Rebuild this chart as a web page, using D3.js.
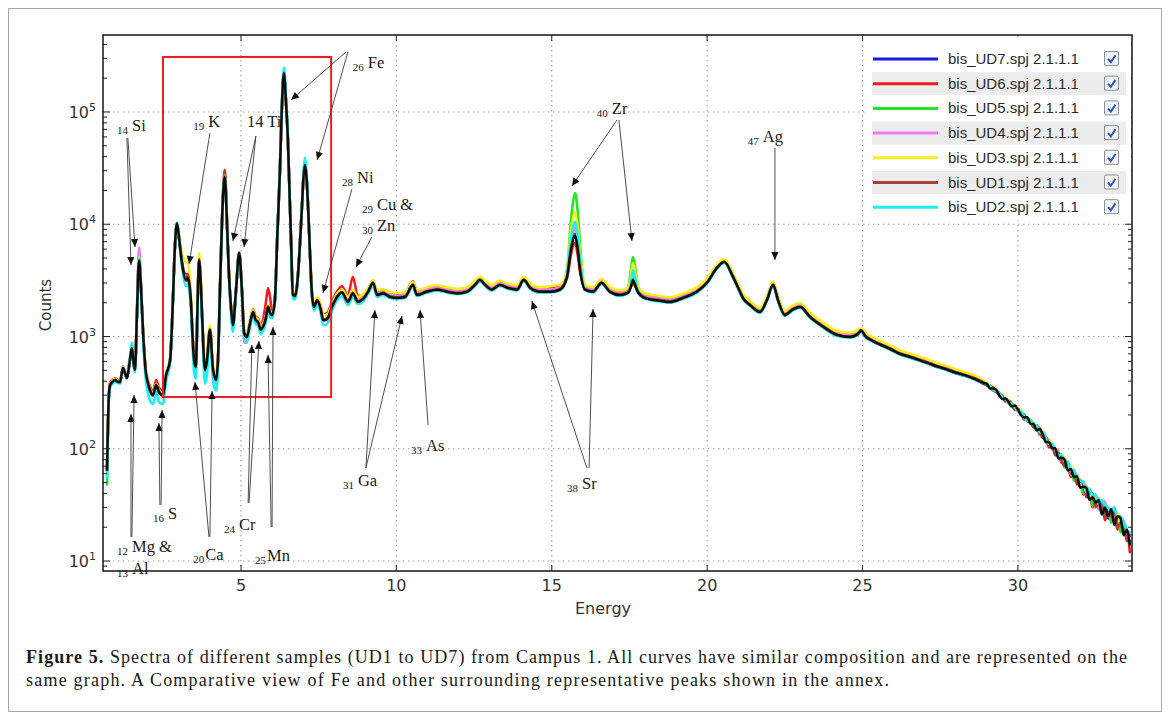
<!DOCTYPE html>
<html>
<head>
<meta charset="utf-8">
<script src="https://cdn.jsdelivr.net/npm/d3@7"></script>
<style>
  body { margin: 0; background: #fff; }
  svg { display: block; }
</style>
</head>
<body>
<svg id="fig" width="1170" height="720"></svg>
<script>
// ---- XRF spectra: energy grid (keV) shared by all traces ----
const energy = [
  0.69,0.75,0.79,0.87,0.95,1.03,1.11,1.20,1.27,1.33,
  1.42,1.49,1.55,1.59,1.65,1.72,1.78,1.85,1.94,2.00,
  2.07,2.17,2.27,2.36,2.49,2.59,2.72,2.81,2.87,2.94,
  3.02,3.10,3.23,3.29,3.39,3.45,3.49,3.55,3.60,3.65,
  3.70,3.75,3.84,3.91,4.00,4.10,4.20,4.26,4.33,4.42,
  4.48,4.55,4.61,4.68,4.74,4.84,4.94,5.03,5.10,5.19,
  5.29,5.39,5.47,5.55,5.63,5.71,5.80,5.87,5.94,6.00,
  6.09,6.17,6.25,6.31,6.38,6.45,6.51,6.56,6.61,6.67,
  6.74,6.80,6.88,6.96,7.01,7.06,7.11,7.16,7.22,7.28,
  7.35,7.45,7.57,7.64,7.70,7.80,7.93,8.09,8.25,8.44,
  8.60,8.76,8.93,9.09,9.25,9.38,9.57,9.79,10.02,10.28,
  10.53,10.66,10.98,11.30,11.63,11.95,12.27,12.53,12.69,12.85,
  13.07,13.33,13.56,13.88,14.10,14.30,14.62,14.94,15.26,15.49,
  15.60,15.68,15.75,15.83,15.92,16.07,16.33,16.60,16.87,17.19,
  17.45,17.55,17.61,17.68,17.77,18.00,18.38,18.80,19.22,19.67,
  20.00,20.31,20.55,20.83,21.00,21.15,21.38,21.70,21.92,22.12,
  22.28,22.50,22.73,22.99,23.31,23.73,24.18,24.59,24.85,24.95,
  25.10,25.33,25.60,25.90,26.20,26.50,26.80,27.10,27.40,27.70,
  28.00,28.30,28.60,28.90,29.00,29.10,29.20,29.30,29.40,29.50,
  29.60,29.70,29.80,29.90,30.00,30.10,30.20,30.30,30.40,30.50,
  30.60,30.70,30.80,30.90,31.00,31.10,31.20,31.30,31.40,31.50,
  31.60,31.70,31.80,31.90,32.00,32.10,32.20,32.30,32.40,32.50,
  32.60,32.70,32.80,32.90,33.00,33.10,33.20,33.30,33.40,33.50,
  33.60
];

// ---- counts per sample ----
const ud7 = [
  63,298,368,393,406,392,390,522,468,425,
  598,785,556,500,1490,4750,2780,1070,470,388,
  330,298,368,318,298,448,612,2100,5980,10150,
  6980,4500,3150,3310,1980,895,612,530,1790,4760,
  3180,1480,500,612,1145,500,406,612,2990,16900,
  26200,9950,3660,1790,1250,2570,5520,2570,1070,985,
  1290,1640,1390,1335,1140,1210,1440,1820,1590,1540,
  2090,7950,28400,99500,221000,119500,55700,19900,7200,2340,
  2290,2760,5470,14050,25900,33500,25900,14050,5470,2450,
  1820,2090,1710,1395,1395,1455,1820,2240,2450,2020,
  2410,2020,2140,2490,2990,2330,2410,2240,2190,2240,
  2870,2330,2490,2600,2490,2410,2490,2870,3170,2870,
  2600,2870,2710,2600,3170,2710,2490,2490,2600,3400,
  5700,7400,8100,6300,3850,2600,2490,2990,2490,2330,
  2440,2800,3200,2900,2490,2190,2090,2020,2190,2490,
  3020,4050,4580,3390,2690,2190,1890,1640,2090,2870,
  2090,1540,1710,1820,1480,1215,1025,985,1045,1125,
  995,905,835,765,695,655,615,576,536,506,
  470,446,416,378,370,352,344,322,306,287,
  276,257,247,231,221,204,196,179,174,160,
  156,141,135,119,114,100,97,85,84,73,
  72,61,60,50,51,42,44,36,38,31,
  34,27,31,24,28,22,26,19,21,16,
  15
];
const ud6 = [
  65,310,390,410,425,410,405,540,490,440,
  610,780,580,520,1550,5200,2900,1100,500,410,
  360,320,410,350,330,470,640,2150,6100,10000,
  7000,4500,3300,3500,2050,950,660,570,1850,4800,
  3300,1550,540,660,1200,540,450,650,3100,19000,
  30500,11500,3900,1850,1300,2620,5650,2620,1150,1060,
  1380,1750,1500,1450,1250,1400,2000,2700,2200,1650,
  2150,8000,28000,98000,215000,118000,55000,20000,7400,2450,
  2420,2850,5500,14000,25500,33000,25500,14000,5600,2550,
  1900,2200,1850,1560,1580,1650,2050,2500,2800,2300,
  3400,2300,2350,2650,3050,2500,2600,2450,2400,2450,
  3100,2550,2700,2800,2700,2620,2700,3050,3350,3050,
  2800,3050,2900,2800,3300,2880,2680,2700,2780,3300,
  5000,6400,6800,5400,3600,2750,2700,3100,2680,2520,
  2600,2800,3000,2800,2600,2350,2270,2200,2370,2680,
  3200,4250,4800,3600,2850,2350,2030,1770,2220,2980,
  2220,1660,1830,1940,1580,1300,1090,1040,1100,1170,
  1040,950,870,800,730,690,640,600,560,530,
  490,465,430,395,365,366,328,325,314,284,
  264,270,251,222,227,209,182,186,181,156,
  159,134,138,124,103,108,92,93,75,78,
  73,56,61,51,53,39,43,42,30,36,
  29,33,23,29,24,27,19,23,18,19,
  12
];
const ud5 = [
  48,290,365,395,410,395,390,520,468,428,
  600,800,560,505,1500,4900,2800,1080,470,385,
  330,295,365,318,300,450,615,2100,6000,10100,
  7000,4500,3150,3300,1980,890,610,530,1800,4800,
  3200,1490,500,615,1150,500,405,615,3000,17500,
  27500,10200,3700,1800,1250,2580,5550,2580,1070,985,
  1290,1640,1400,1340,1150,1220,1450,1830,1600,1550,
  2100,8000,28500,100000,220000,119000,56000,20000,7200,2360,
  2320,2800,5500,14200,26200,34000,26200,14200,5500,2480,
  1850,2120,1750,1430,1430,1490,1860,2300,2520,2100,
  2500,2100,2250,2620,3150,2450,2520,2350,2300,2340,
  2980,2440,2600,2710,2600,2520,2600,2990,3300,2990,
  2720,2990,2830,2720,3300,2830,2600,2600,2720,3900,
  9500,15500,19000,13500,6000,2700,2600,3100,2600,2440,
  2700,4000,5100,4200,2850,2290,2180,2110,2290,2600,
  3150,4230,4780,3540,2810,2290,1980,1720,2180,2990,
  2180,1610,1790,1900,1550,1270,1070,1030,1090,1160,
  1040,945,875,800,728,686,645,603,562,530,
  494,468,437,395,372,362,332,332,308,281,
  283,257,236,241,218,211,184,187,169,170,
  145,145,140,113,114,109,87,91,88,68,
  73,69,52,54,53,40,44,43,31,35,
  36,26,31,30,22,27,26,18,22,19,
  14
];
const ud4 = [
  62,305,375,400,415,400,398,530,475,432,
  610,800,570,510,1700,6200,3200,1100,480,395,
  340,305,375,325,305,455,620,2120,6000,10200,
  7000,4500,3150,3300,2000,880,600,520,1750,4700,
  3150,1450,480,600,1150,480,380,600,2950,16500,
  25500,9800,3600,1750,1200,2500,5400,2500,880,880,
  1250,1600,1350,1300,1100,1150,1400,1800,1550,1500,
  2050,7800,28000,99000,220000,120000,55000,19500,7000,2200,
  2200,2700,5400,14000,25800,33500,25800,14000,5400,2400,
  1780,2050,1700,1380,1380,1450,1850,2300,2520,2100,
  2500,2120,2250,2600,3080,2420,2520,2360,2300,2350,
  3000,2450,2620,2730,2620,2540,2620,3000,3300,3000,
  2740,3000,2850,2740,3300,2850,2620,2620,2740,3500,
  6500,8500,9400,7200,4300,2740,2620,3130,2620,2450,
  2560,3000,3700,3200,2620,2310,2200,2130,2310,2620,
  3150,4200,4750,3520,2800,2300,1990,1730,2190,2990,
  2190,1620,1800,1910,1560,1280,1080,1040,1100,1160,
  1050,955,880,805,735,690,650,608,566,534,
  497,470,440,392,383,351,349,338,296,299,
  278,255,256,232,224,217,188,184,182,160,
  159,154,128,124,121,98,99,96,77,78,
  77,59,61,59,46,47,47,35,38,39,
  29,32,34,25,28,30,21,23,23,17,
  17
];
const ud3 = [
  62,310,380,405,420,405,400,535,480,440,
  620,810,580,520,1550,5100,2900,1100,490,400,
  345,310,380,330,310,470,640,2150,6050,10300,
  7600,5500,4600,4500,2300,1000,680,600,2100,5500,
  3700,1650,560,680,1250,560,450,680,3050,17000,
  26500,10100,3750,1850,1320,2650,5600,2620,1150,1080,
  1400,1720,1470,1420,1230,1300,1520,1900,1680,1620,
  2200,8100,28600,100000,220000,120000,56000,20000,7400,2550,
  2500,2900,5500,14100,26000,33700,26000,14100,5600,2700,
  2050,2250,1850,1550,1550,1600,1950,2400,2620,2250,
  2600,2250,2400,2700,3150,2600,2650,2480,2450,2480,
  3050,2580,2750,2860,2750,2660,2750,3150,3400,3150,
  2870,3150,2980,2870,3400,2980,2750,2800,2900,3800,
  8000,11200,12900,9500,5200,2900,2750,3250,2750,2580,
  2700,3500,4500,3800,2800,2430,2320,2240,2420,2750,
  3300,4350,4900,3650,2900,2400,2070,1800,2280,3080,
  2260,1690,1870,1990,1620,1330,1120,1080,1140,1190,
  1080,985,905,830,755,710,665,625,580,548,
  510,482,450,405,387,359,359,332,308,305,
  281,270,246,246,227,219,196,189,184,166,
  163,145,144,126,118,112,95,94,85,84,
  71,70,61,59,49,50,45,44,37,38,
  34,35,28,30,28,26,27,21,22,18,
  17
];
const ud1 = [
  64,300,372,398,410,396,393,526,472,428,
  602,792,562,506,1510,4800,2810,1080,475,392,
  335,302,372,322,302,452,620,2115,6010,10200,
  7100,4700,3600,3600,2050,920,625,540,1820,4900,
  3250,1500,510,625,1160,510,415,625,3010,17200,
  26800,10100,3700,1810,1270,2590,5560,2590,1085,1000,
  1310,1660,1410,1355,1160,1230,1470,1860,1620,1560,
  2110,8050,28700,101000,224000,121000,56500,20100,7260,2370,
  2320,2790,5520,14150,26100,33900,26100,14150,5520,2480,
  1845,2120,1740,1420,1420,1480,1850,2270,2480,2050,
  2450,2060,2180,2530,3030,2370,2450,2280,2230,2280,
  2910,2370,2530,2640,2530,2450,2530,2910,3210,2910,
  2640,2910,2750,2640,3210,2750,2530,2530,2640,3450,
  5800,7500,8200,6400,3900,2640,2530,3030,2530,2370,
  2480,2850,3250,2950,2530,2230,2130,2060,2230,2530,
  3060,4110,4640,3430,2730,2230,1920,1670,2120,2910,
  2120,1570,1740,1850,1510,1235,1045,1000,1060,1140,
  1010,920,850,780,708,668,628,588,547,516,
  481,455,425,388,368,359,352,319,308,296,
  267,265,248,225,227,207,202,175,175,155,
  162,141,125,128,109,109,88,92,79,70,
  75,60,63,48,51,49,37,41,40,30,
  33,34,25,29,25,28,20,22,22,15,
  17
];
const ud2 = [
  55,280,355,380,395,385,380,520,470,430,
  640,880,540,480,1400,5000,2700,950,400,320,
  270,250,320,260,250,400,600,2100,6100,10300,
  6900,4200,2800,2900,1700,760,480,420,1650,4700,
  3000,1300,380,470,1050,400,330,520,2900,17000,
  26500,9800,3500,1600,1100,2500,5600,2450,960,900,
  1200,1550,1300,1250,1050,1120,1350,1700,1480,1450,
  2050,8200,30000,112000,250000,135000,60000,20000,7000,2150,
  2150,2650,5600,15000,29000,39000,29000,15000,5300,2250,
  1700,1950,1580,1270,1260,1330,1700,2100,2300,1900,
  2250,1950,2050,2420,2800,2250,2350,2200,2150,2200,
  2750,2300,2450,2560,2450,2380,2450,2820,3100,2830,
  2560,2820,2670,2560,3120,2680,2450,2460,2570,3500,
  6800,9300,10500,8000,4500,2600,2450,2950,2480,2300,
  2420,3000,3880,3300,2550,2170,2060,2000,2160,2450,
  2980,4000,4520,3350,2650,2170,1870,1630,2060,2830,
  2060,1530,1690,1800,1470,1200,1010,975,1030,1110,
  985,900,830,760,690,650,612,575,535,505,
  470,445,414,385,376,362,335,328,314,287,
  281,252,253,236,216,215,196,177,181,163,
  160,140,141,124,110,111,98,87,89,78,
  77,63,65,55,52,51,41,44,38,39,
  32,35,31,30,27,30,25,25,22,19,
  18
];
// dark trace plotted over the coloured ones
const topTrace = [
  65,300,370,395,409,395,392,525,470,427,
  600,790,560,504,1500,4780,2800,1075,473,390,
  333,300,370,320,300,450,617,2110,6000,10200,
  7000,4520,3170,3330,1990,900,617,534,1800,4780,
  3200,1490,504,617,1150,504,410,617,3000,17000,
  26400,10000,3680,1800,1260,2580,5550,2580,1075,990,
  1300,1650,1400,1345,1150,1220,1450,1830,1600,1550,
  2100,8000,28600,100000,222000,120000,56000,20000,7240,2350,
  2300,2770,5500,14100,26000,33700,26000,14100,5500,2460,
  1830,2100,1720,1400,1400,1460,1830,2250,2460,2030,
  2420,2030,2150,2500,3000,2340,2420,2250,2200,2250,
  2880,2340,2500,2610,2500,2420,2500,2880,3180,2880,
  2610,2880,2720,2610,3180,2720,2500,2500,2610,3400,
  5600,7200,7900,6200,3800,2610,2500,3000,2500,2340,
  2450,2800,3180,2900,2500,2200,2100,2030,2200,2500,
  3030,4070,4600,3400,2700,2200,1900,1650,2100,2880,
  2100,1550,1720,1830,1490,1220,1030,990,1050,1130,
  1000,910,840,770,700,660,620,580,540,510,
  475,450,420,385,379,344,345,335,299,278,
  281,260,239,243,222,199,190,191,167,166,
  146,150,134,115,115,101,101,82,83,80,
  64,66,56,57,45,46,45,35,37,33,
  35,26,30,25,29,21,25,24,17,19,
  14
];

const seriesNames  = ["bis_UD7.spj 2.1.1.1","bis_UD6.spj 2.1.1.1","bis_UD5.spj 2.1.1.1",
                      "bis_UD4.spj 2.1.1.1","bis_UD3.spj 2.1.1.1","bis_UD1.spj 2.1.1.1",
                      "bis_UD2.spj 2.1.1.1"];
const seriesColors = ["#1818e8","#ee1c24","#22e622","#f07cf0","#f4f01c","#a8403c","#18f0f0"];
const seriesValues = [ud7, ud6, ud5, ud4, ud3, ud1, ud2];

// axis ticks
const xTickValues = [5, 10, 15, 20, 25, 30];
const yTickExponents = [1, 2, 3, 4, 5];

// peak annotations: label anchor (energy, log10 counts)
const peakLabels = [
  {sub:"14", main:"Si",   e:1.01,  lg:4.804},
  {sub:"19", main:"K",    e:3.46,  lg:4.840},
  {sub:"",   main:"14 Ti",e:5.19,  lg:4.866},
  {sub:"26", main:"Fe",   e:8.60,  lg:5.365},
  {sub:"28", main:"Ni",   e:8.25,  lg:4.341},
  {sub:"29", main:"Cu &", e:8.89,  lg:4.100},
  {sub:"30", main:"Zn",   e:8.89,  lg:3.913},
  {sub:"31", main:"Ga",   e:8.28,  lg:1.641},
  {sub:"33", main:"As",   e:10.47, lg:1.953},
  {sub:"38", main:"Sr",   e:15.49, lg:1.615},
  {sub:"40", main:"Zr",   e:16.45, lg:4.955},
  {sub:"47", main:"Ag",   e:21.31, lg:4.706},
  {sub:"12", main:"Mg &", e:1.01,  lg:1.053},
  {sub:"13", main:"Al",   e:1.01,  lg:0.857},
  {sub:"16", main:"S",    e:2.17,  lg:1.347},
  {sub:"20", main:"Ca",   e:3.46,  lg:0.982, gap:1},
  {sub:"24", main:"Cr",   e:4.45,  lg:1.249},
  {sub:"25", main:"Mn",   e:5.45,  lg:0.973, gap:1}
];
// arrows: [e from, log10 from, e to, log10 to]
const peakArrows = [
  [1.33,4.768,1.46,3.637],[1.36,4.768,1.59,3.797],
  [4.00,4.813,3.33,3.646],
  [5.48,4.786,4.74,3.851],[5.48,4.786,5.10,3.797],
  [8.38,5.535,6.61,5.107],[8.44,5.535,7.45,4.572],
  [8.57,4.314,7.64,3.388],
  [9.21,3.886,8.70,3.619],
  [9.02,1.829,9.31,3.236],[9.02,1.829,10.18,3.183],
  [11.02,2.212,10.76,3.236],
  [16.13,1.829,14.36,3.316],[16.20,1.829,16.33,3.245],
  [17.10,4.929,15.65,4.341],[17.16,4.929,17.58,3.851],
  [22.18,4.679,22.18,3.682],
  [1.46,1.214,1.46,2.310],[1.49,1.214,1.56,2.479],
  [2.39,1.499,2.36,2.229],[2.43,1.499,2.46,2.345],
  [3.97,1.214,3.52,2.595],[4.00,1.214,4.07,2.514],
  [5.23,1.517,5.35,2.924],[5.26,1.517,5.58,2.960],
  [5.97,1.303,5.87,2.835],[6.00,1.303,6.03,3.085]
];
// highlighted region (energy range, log10 count range)
const focusBox = {e0:2.49, e1:7.90, lg0:2.461, lg1:5.490};

const captionLine1 = "Spectra of different samples (UD1 to UD7) from Campus 1. All curves have similar composition and are represented on the";
const captionLine2 = "same graph. A Comparative view of Fe and other surrounding representative peaks shown in the annex.";

// ---------------- drawing ----------------
const svg = d3.select("#fig");
const W = 1170, H = 720;
const plot = {left: 103, top: 35, right: 1132, bottom: 571};
const sans = "'DejaVu Sans', Verdana, sans-serif";
const serif = "'Liberation Serif', 'Times New Roman', serif";

svg.append("rect").attr("width", W).attr("height", H).attr("fill", "#fff");
svg.append("rect").attr("x", 8.5).attr("y", 8.5).attr("width", 1153).attr("height", 703)
  .attr("fill", "none").attr("stroke", "#a8a8a8").attr("stroke-width", 1);

const x = d3.scaleLinear().domain([0.56, 33.67]).range([plot.left, plot.right]);
const y = d3.scaleLog().domain([8.15, 4.85e5]).range([plot.bottom, plot.top]);

const defs = svg.append("defs");
defs.append("clipPath").attr("id", "plotClip").append("rect")
  .attr("x", plot.left).attr("y", plot.top)
  .attr("width", plot.right - plot.left).attr("height", plot.bottom - plot.top);
defs.append("marker").attr("id", "arrowHead")
  .attr("viewBox", "0 0 10 10").attr("refX", 10).attr("refY", 5)
  .attr("markerWidth", 9).attr("markerHeight", 8).attr("markerUnits", "userSpaceOnUse")
  .attr("orient", "auto")
  .append("path").attr("d", "M0,0.5 L10,5 L0,9.5 Z").attr("fill", "#111");

// dotted grid
const grid = svg.append("g").attr("stroke", "#9c9c9c").attr("stroke-width", 1.1)
  .attr("stroke-dasharray", "1.4,3.6");
xTickValues.forEach(v => grid.append("line")
  .attr("x1", x(v)).attr("x2", x(v)).attr("y1", plot.top).attr("y2", plot.bottom));
yTickExponents.forEach(p => grid.append("line")
  .attr("x1", plot.left).attr("x2", plot.right).attr("y1", y(10 ** p)).attr("y2", y(10 ** p)));

// spectra
const line = d3.line()
  .x(d => x(d[0])).y(d => y(d[1]))
  .curve(d3.curveMonotoneX);
const curves = svg.append("g").attr("clip-path", "url(#plotClip)")
  .attr("fill", "none").attr("stroke-linejoin", "round").attr("stroke-linecap", "round");
seriesValues.forEach((vals, i) => {
  curves.append("path").datum(d3.zip(energy, vals))
    .attr("d", line).attr("stroke", seriesColors[i]).attr("stroke-width", 2.6);
});
curves.append("path").datum(d3.zip(energy, topTrace))
  .attr("d", line).attr("stroke", "#0c0c0c").attr("stroke-width", 2.5);

// focus rectangle
svg.append("rect")
  .attr("x", x(focusBox.e0)).attr("y", y(10 ** focusBox.lg1))
  .attr("width", x(focusBox.e1) - x(focusBox.e0))
  .attr("height", y(10 ** focusBox.lg0) - y(10 ** focusBox.lg1))
  .attr("fill", "none").attr("stroke", "#ee1c24").attr("stroke-width", 2);

// ticks (inward, on all four sides)
const ticks = svg.append("g").attr("stroke", "#222").attr("stroke-width", 1);
xTickValues.forEach(v => {
  ticks.append("line").attr("x1", x(v)).attr("x2", x(v)).attr("y1", plot.bottom).attr("y2", plot.bottom - 6);
  ticks.append("line").attr("x1", x(v)).attr("x2", x(v)).attr("y1", plot.top).attr("y2", plot.top + 6);
});
yTickExponents.concat([0]).forEach(p => {
  for (let m = 1; m <= 9; m++) {
    const v = m * 10 ** p;
    if (v < y.domain()[0] || v > y.domain()[1]) continue;
    const len = m === 1 ? 7 : 4;
    ticks.append("line").attr("x1", plot.left).attr("x2", plot.left + len).attr("y1", y(v)).attr("y2", y(v));
    ticks.append("line").attr("x1", plot.right).attr("x2", plot.right - len).attr("y1", y(v)).attr("y2", y(v));
  }
});

// frame
svg.append("rect").attr("x", plot.left).attr("y", plot.top)
  .attr("width", plot.right - plot.left).attr("height", plot.bottom - plot.top)
  .attr("fill", "none").attr("stroke", "#222").attr("stroke-width", 1.6);

// tick labels
const tickText = svg.append("g").attr("font-family", sans).attr("fill", "#333");
xTickValues.forEach(v => tickText.append("text")
  .attr("x", x(v)).attr("y", 591).attr("text-anchor", "middle").attr("font-size", 16).text(v));
yTickExponents.forEach(p => {
  const t = tickText.append("text").attr("x", 96).attr("y", y(10 ** p) + 6)
    .attr("text-anchor", "end").attr("font-size", 16);
  t.append("tspan").text("10");
  t.append("tspan").attr("font-size", 11).attr("dy", -7).text(p);
});
tickText.append("text").attr("x", 603).attr("y", 614).attr("text-anchor", "middle")
  .attr("font-size", 16).text("Energy");
tickText.append("text").attr("transform", "translate(51,305) rotate(-90)")
  .attr("text-anchor", "middle").attr("font-size", 15).text("Counts");

// annotations
const ann = svg.append("g");
peakArrows.forEach(a => ann.append("line")
  .attr("x1", x(a[0])).attr("y1", y(10 ** a[1]))
  .attr("x2", x(a[2])).attr("y2", y(10 ** a[3]))
  .attr("stroke", "#3a3a3a").attr("stroke-width", 0.9)
  .attr("marker-end", "url(#arrowHead)"));
peakLabels.forEach(d => {
  const t = ann.append("text").attr("x", x(d.e)).attr("y", y(10 ** d.lg))
    .attr("font-family", serif).attr("fill", "#1a1a1a");
  if (d.sub) {
    t.append("tspan").attr("font-size", 11).text(d.sub);
    t.append("tspan").attr("font-size", 16.5).attr("dx", d.gap ?? 4).attr("dy", -3).text(d.main);
  } else {
    t.append("tspan").attr("font-size", 16.5).text(d.main);
  }
});

// legend
const legend = svg.append("g");
legend.append("rect").attr("x", 866).attr("y", 36.5).attr("width", 265).attr("height", 184).attr("fill", "#fff");
seriesNames.forEach((name, i) => {
  const cy = 59 + i * 24.7;
  if (i % 2 === 1) legend.append("rect").attr("x", 872).attr("y", cy - 11.5)
    .attr("width", 254).attr("height", 23).attr("fill", "#ececec");
  legend.append("line").attr("x1", 873).attr("x2", 938).attr("y1", cy).attr("y2", cy)
    .attr("stroke", seriesColors[i]).attr("stroke-width", 3);
  legend.append("text").attr("x", 948).attr("y", cy + 5).attr("font-family", "'Liberation Sans', Arial, sans-serif")
    .attr("font-size", 15).attr("fill", "#2a2a2a").text(name);
  legend.append("rect").attr("x", 1104.5).attr("y", cy - 7.5).attr("width", 14).attr("height", 14)
    .attr("rx", 1.5).attr("fill", "#f2f4f8").attr("stroke", "#8a8f99").attr("stroke-width", 1);
  legend.append("path").attr("d", `M${1108},${cy} L${1110.8},${cy + 3.2} L${1115.5},${cy - 3.8}`)
    .attr("fill", "none").attr("stroke", "#2d52c8").attr("stroke-width", 2);
});

// caption
const cap1 = svg.append("text").attr("x", 26).attr("y", 663).attr("font-family", serif)
  .attr("font-size", 18).attr("fill", "#1a1a1a")
  .attr("textLength", 1101).attr("lengthAdjust", "spacing");
cap1.append("tspan").attr("font-weight", "bold").text("Figure 5.");
cap1.append("tspan").text(" " + captionLine1);
svg.append("text").attr("x", 26).attr("y", 686).attr("font-family", serif)
  .attr("font-size", 18).attr("fill", "#1a1a1a")
  .attr("textLength", 863).attr("lengthAdjust", "spacing").text(captionLine2);
</script>
</body>
</html>
